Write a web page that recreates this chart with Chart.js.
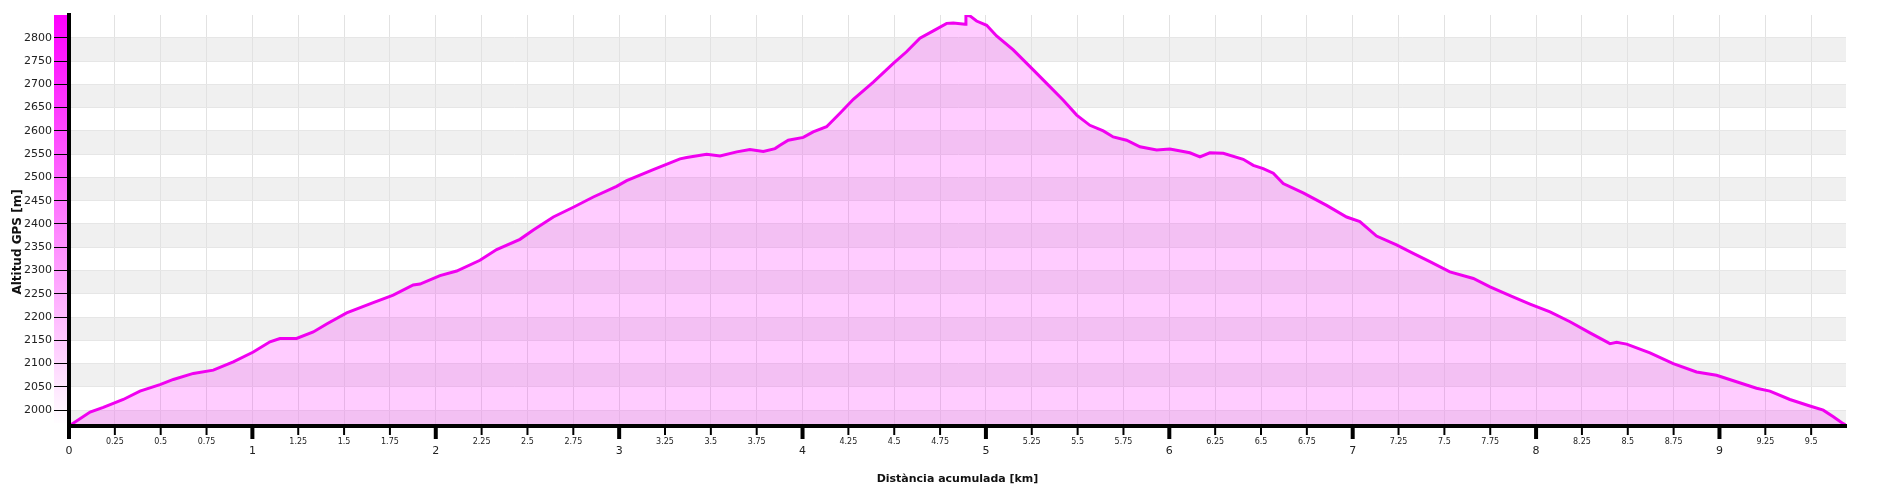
<!DOCTYPE html>
<html>
<head>
<meta charset="utf-8">
<script src="https://cdn.jsdelivr.net/npm/chart.js@4/dist/chart.umd.min.js"></script>
<style>
  html, body { margin: 0; padding: 0; background: #fff; }
  #wrap { width: 1877px; height: 486px; position: relative; }
</style>
</head>
<body>
<div id="wrap"><canvas id="altChart"></canvas></div>
<script>
// distance along the track (km) and GPS altitude (m)
const distKm = [
  0.000, 0.115, 0.187, 0.296, 0.387, 0.496, 0.569, 0.678, 0.787, 0.896,
  1.005, 1.096, 1.150, 1.241, 1.332, 1.405, 1.514, 1.659, 1.768, 1.877,
  1.914, 2.023, 2.114, 2.241, 2.332, 2.459, 2.532, 2.641, 2.750, 2.859,
  2.986, 3.041, 3.186, 3.332, 3.368, 3.477, 3.550, 3.641, 3.713, 3.786,
  3.850, 3.877, 3.922, 4.004, 4.058, 4.131, 4.204, 4.277, 4.386, 4.495,
  4.567, 4.640, 4.713, 4.786, 4.822, 4.886, 4.891, 4.913, 4.949, 5.004,
  5.058, 5.149, 5.258, 5.331, 5.422, 5.495, 5.567, 5.640, 5.694, 5.767,
  5.840, 5.931, 6.003, 6.112, 6.167, 6.221, 6.294, 6.403, 6.458, 6.512,
  6.567, 6.621, 6.730, 6.858, 6.967, 7.039, 7.130, 7.239, 7.330, 7.421,
  7.530, 7.658, 7.749, 7.858, 7.967, 8.076, 8.185, 8.294, 8.403, 8.439,
  8.494, 8.621, 8.748, 8.875, 8.984, 9.093, 9.202, 9.275, 9.384, 9.493,
  9.566, 9.621, 9.675, 9.690
];
const altitudM = [
  1966, 1996, 2006, 2023, 2041, 2055, 2066, 2079, 2086, 2104,
  2125, 2147, 2154, 2154, 2168, 2185, 2209, 2231, 2247, 2269,
  2271, 2289, 2299, 2322, 2345, 2367, 2387, 2415, 2436, 2458,
  2481, 2493, 2517, 2540, 2543, 2550, 2546, 2555, 2560, 2556,
  2562, 2569, 2580, 2586, 2598, 2609, 2638, 2668, 2705, 2745,
  2770, 2799, 2815, 2831, 2832, 2829, 2849, 2847, 2836, 2827,
  2804, 2774, 2731, 2702, 2666, 2634, 2612, 2600, 2587, 2580,
  2566, 2559, 2561, 2553, 2544, 2553, 2552, 2539, 2526, 2519,
  2509, 2487, 2467, 2440, 2415, 2405, 2374, 2355, 2337, 2319,
  2297, 2283, 2265, 2246, 2228, 2211, 2190, 2166, 2143, 2146,
  2142, 2123, 2100, 2082, 2075, 2061, 2047, 2041, 2023, 2009,
  2000, 1986, 1971, 1968
];
const xRange = [0, 9.69];
const yRange = [1966, 2849];
const xStep = 0.25;
const yStep = 50;
const xTitle = 'Distància acumulada [km]';
const yTitle = 'Altitud GPS [m]';

Chart.defaults.font.family = '"DejaVu Sans", Verdana, sans-serif';

const points = distKm.map((d, i) => ({ x: d, y: altitudM[i] }));

const decor = {
  id: 'decor',
  beforeDraw(chart) {
    const { ctx, chartArea: a, scales: { y } } = chart;
    ctx.save();
    // alternating grey bands
    ctx.fillStyle = '#f0f0f0';
    for (let v = 2000; v <= 2800; v += 100) {
      const top = y.getPixelForValue(v);
      const bot = Math.min(y.getPixelForValue(v - 50), a.bottom);
      ctx.fillRect(a.left, top, a.right - a.left, bot - top);
    }
    // magenta colour bar beside the y axis
    const g = ctx.createLinearGradient(0, a.top, 0, a.bottom);
    g.addColorStop(0, '#ff00ff');
    g.addColorStop(1, '#ffffff');
    ctx.fillStyle = g;
    ctx.fillRect(a.left - 15, a.top, 13, a.bottom - a.top - 3);
    ctx.restore();
  },
  afterDraw(chart) {
    const { ctx, chartArea: a, scales: { x } } = chart;
    ctx.save();
    ctx.strokeStyle = '#000';
    x.ticks.forEach(t => {
      const px = x.getPixelForValue(t.value);
      const major = Number.isInteger(t.value);
      ctx.lineWidth = major ? 4 : 2;
      ctx.beginPath();
      ctx.moveTo(px, a.bottom);
      ctx.lineTo(px, a.bottom + (major ? 13 : 9));
      ctx.stroke();
    });
    // y title overlaps the tick labels like the original
    ctx.translate(18, 242);
    ctx.rotate(-Math.PI / 2);
    ctx.font = 'bold 12px "DejaVu Sans"';
    ctx.fillStyle = '#111';
    ctx.textAlign = 'center';
    ctx.textBaseline = 'middle';
    ctx.fillText(yTitle, 0, 0);
    ctx.restore();
  }
};

new Chart(document.getElementById('altChart'), {
  type: 'line',
  data: {
    datasets: [{
      data: points,
      borderColor: '#f000f0',
      borderWidth: 3,
      backgroundColor: 'rgba(255, 0, 255, 0.2)',
      fill: 'start',
      pointRadius: 0,
      tension: 0
    }]
  },
  options: {
    responsive: true,
    maintainAspectRatio: false,
    animation: false,
    layout: { padding: { left: 0, right: 31, top: 15, bottom: 0 } },
    plugins: { legend: { display: false }, tooltip: { enabled: false } },
    scales: {
      x: {
        type: 'linear',
        min: xRange[0],
        max: xRange[1],
        afterFit: s => { s.height = 60; },
        grid: { color: '#e2e2e2', lineWidth: 1, drawTicks: true, tickLength: 7, tickColor: 'rgba(0,0,0,0)' },
        border: { color: '#000', width: 4, z: 1 },
        ticks: {
          stepSize: xStep,
          includeBounds: false,
          autoSkip: false,
          maxRotation: 0,
          minRotation: 0,
          padding: 4,
          color: '#222',
          font: c => (c.tick && Number.isInteger(c.tick.value))
            ? { size: 11, lineHeight: 2.49 }
            : { size: 8, lineHeight: 1.2 },
          callback: v => String(+v.toFixed(2))
        },
        title: {
          display: true,
          text: xTitle,
          color: '#111',
          font: { size: 11, weight: 'bold' },
          padding: { top: 0, bottom: 0 }
        }
      },
      y: {
        min: yRange[0],
        max: yRange[1],
        afterFit: s => { s.width = 69; },
        grid: { color: '#e6e6e6', lineWidth: 1, tickLength: 15, tickColor: '#000', tickWidth: 1 },
        border: { color: '#000', width: 4, z: 1 },
        ticks: {
          stepSize: yStep,
          includeBounds: false,
          padding: 2,
          color: '#222',
          font: { size: 11 },
          callback: v => String(v)
        }
      }
    }
  },
  plugins: [decor]
});
</script>
</body>
</html>
